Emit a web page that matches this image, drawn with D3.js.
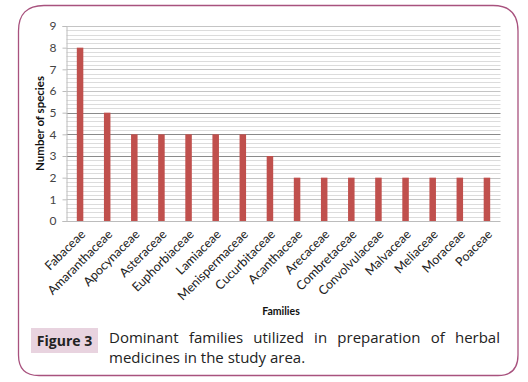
<!DOCTYPE html>
<html><head><meta charset="utf-8">
<script src="https://cdn.jsdelivr.net/npm/d3@7"></script>
<style>body{margin:0;background:#fff}svg{display:block}</style>
</head><body>
<script>
const families = ["Fabaceae","Amaranthaceae","Apocynaceae","Asteraceae","Euphorbiaceae","Lamiaceae","Menispermaceae","Cucurbitaceae","Acanthaceae","Arecaceae","Combretaceae","Convolvulaceae","Malvaceae","Meliaceae","Moraceae","Poaceae"];
const species = [8,5,4,4,4,4,4,3,2,2,2,2,2,2,2,2];
const yTicks = [0,1,2,3,4,5,6,7,8,9];

const W=528,H=382;
const svg=d3.select("body").append("svg").attr("width",W).attr("height",H);
const font="Lato, 'Open Sans', sans-serif";

// frame
svg.append("path")
 .attr("d","M18.5,31 Q18.5,5.5 44,5.5 L493,5.5 Q518,5.5 518,31 L518,355 Q518,375.5 498,375.5 L39,375.5 Q18.5,375.5 18.5,355 Z")
 .attr("fill","none").attr("stroke","#a8527e").attr("stroke-width",1.3);

const m={l:66.5,r:500.5,t:26,b:221};
const x=d3.scaleBand().domain(families).range([m.l,m.r]).paddingInner(0.76).paddingOuter(0.38);
const y=d3.scaleLinear().domain([0,9]).range([m.b,m.t]);

const g=svg.append("g");
// minor grid
g.selectAll("line.minor").data(d3.range(0,9.01,0.2).map(v=>+v.toFixed(1)).filter(v=>Math.abs(v-Math.round(v))>0.01))
 .join("line").attr("x1",m.l).attr("x2",m.r)
 .attr("y1",d=>Math.round(y(d))+0.5).attr("y2",d=>Math.round(y(d))+0.5)
 .attr("stroke","#dcdcdc").attr("stroke-width",1);
// major grid
g.selectAll("line.major").data(yTicks.slice(1)).join("line").attr("x1",m.l).attr("x2",m.r)
 .attr("y1",d=>Math.round(y(d))+0.5).attr("y2",d=>Math.round(y(d))+0.5)
 .attr("stroke",d=>(d>=3&&d<=5)?"#8a8a8a":"#c4c4c4").attr("stroke-width",1);

// bars
g.selectAll("rect.bar").data(species).join("rect")
 .attr("x",(d,i)=>x(families[i])).attr("width",x.bandwidth())
 .attr("y",d=>y(d)).attr("height",d=>y(0)-y(d))
 .attr("fill","#c0504d");

// axes
const ya=svg.append("g").attr("transform",`translate(${m.l},0)`)
 .call(d3.axisLeft(y).tickValues(yTicks).tickSize(4).tickPadding(6));
ya.select(".domain").attr("stroke","#bcbcbc");
ya.selectAll(".tick line").attr("stroke","#bcbcbc");
ya.selectAll(".tick text").attr("font-family",font).attr("font-size",12).attr("fill","#444");

const xa=svg.append("g").attr("transform",`translate(0,${m.b})`)
 .call(d3.axisBottom(x).tickSize(0).tickPadding(0));
xa.select(".domain").attr("stroke","#bcbcbc").attr("d",`M${m.l},0.5H${m.r}`);
xa.selectAll(".tick text").attr("font-family",font).attr("font-size",12.5).attr("fill","#222")
 .attr("text-anchor","end").attr("dy",0).attr("y",0)
 .attr("transform","translate(6,14) rotate(-45)");

svg.append("text").attr("transform",`translate(44,${(m.t+m.b)/2+0}) rotate(-90)`)
 .attr("text-anchor","middle").attr("font-family",font).attr("font-weight","bold")
 .attr("font-size",11.5).attr("fill","#111").text("Number of species");
svg.append("text").attr("x",281).attr("y",315).attr("text-anchor","middle")
 .attr("font-family",font).attr("font-weight","bold").attr("font-size",10.5).attr("fill","#111").text("Families");

// caption
svg.append("rect").attr("x",31).attr("y",328).attr("width",67).attr("height",25).attr("fill","#e8d3df");
svg.append("text").attr("x",64.5).attr("y",346).attr("text-anchor","middle").attr("font-family","'Open Sans', Lato, sans-serif")
 .attr("font-weight","bold").attr("font-size",14).attr("fill","#222").text("Figure 3");
const words="Dominant families utilized in preparation of herbal".split(" ");
const tmp=svg.append("text").attr("font-family","'Open Sans', Lato, sans-serif").attr("font-size",15);
const widths=words.map(w=>{tmp.text(w);return tmp.node().getComputedTextLength();});
tmp.remove();
const x0=109,x1=500;
const gap=(x1-x0-d3.sum(widths))/(words.length-1);
let cx=x0;
words.forEach((w,i)=>{svg.append("text").attr("x",cx).attr("y",343).attr("font-family","'Open Sans', Lato, sans-serif").attr("font-size",15).attr("fill","#222").text(w);cx+=widths[i]+gap;});
svg.append("text").attr("x",x0).attr("y",363).attr("font-family","'Open Sans', Lato, sans-serif").attr("font-size",15).attr("fill","#222").text("medicines in the study area.");
</script>
</body></html>
